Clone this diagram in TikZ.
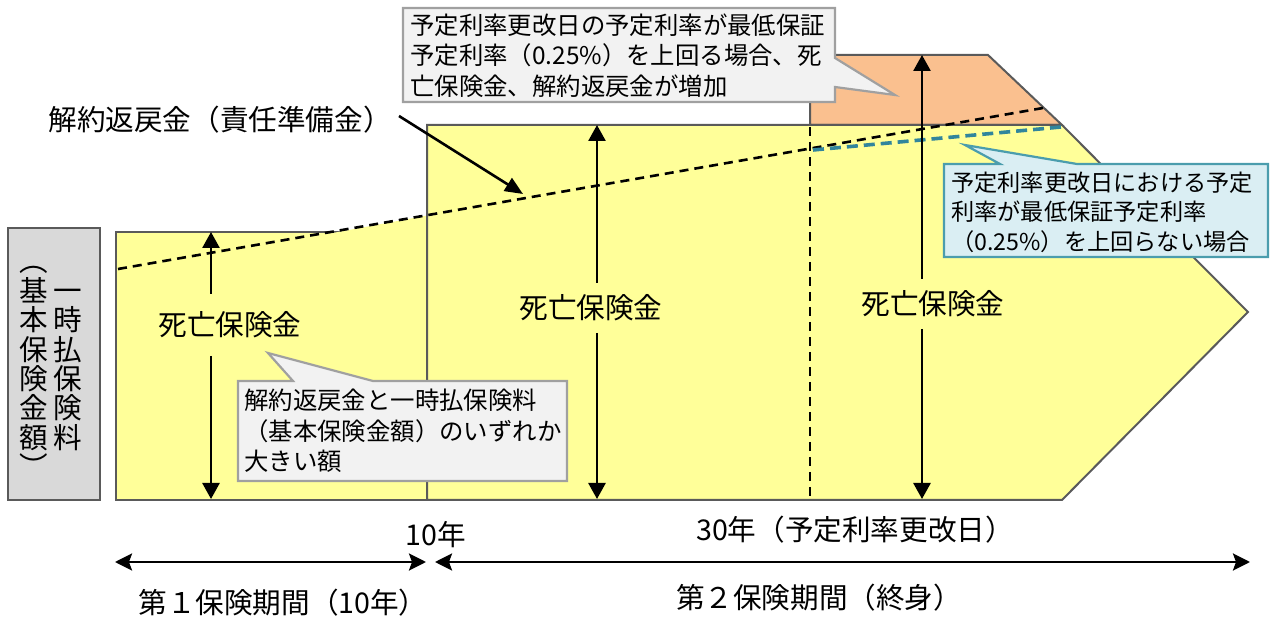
\documentclass[tikz,border=0pt]{standalone}
\usepackage{fontspec}
\setmainfont{Noto Sans CJK JP}
\usetikzlibrary{arrows.meta}
\definecolor{ylw}{HTML}{FFFF99}
\definecolor{org}{HTML}{FAC08F}
\definecolor{edgegray}{HTML}{5A5A5A}
\definecolor{boxgray}{HTML}{D9D9D9}
\definecolor{callfill}{HTML}{F2F2F2}
\definecolor{callline}{HTML}{A0A0A0}
\definecolor{tealfill}{HTML}{DAEEF3}
\definecolor{tealline}{HTML}{4B9DAD}
\definecolor{tealdash}{HTML}{31859C}
\newcommand\jpbig{\fontsize{28.6}{29.4}\selectfont}
\newcommand\jpsmall{\fontsize{24.4}{30.5}\selectfont}
\newcommand\jpteal{\fontsize{23.2}{29.5}\selectfont}
\newcommand\jst{\rule[-0.12em]{0pt}{1em}}
\begin{document}
\begin{tikzpicture}[x=1pt,y=-1pt,
  shapeedge/.style={draw=edgegray, line width=2pt, line join=miter},
  blackdash/.style={draw=black, dash pattern=on 9pt off 6pt, line width=2.6pt},
  tealdashline/.style={draw=tealdash, dash pattern=on 11pt off 6pt, line width=3.6pt},
  arr/.style={draw=black, line width=2.6pt, -{Triangle[width=17pt 0,length=16pt 0]}},
  dbl/.style={draw=black, line width=2.6pt, {Stealth[width=17pt 0,length=17pt 0,inset=3pt]}-{Stealth[width=17pt 0,length=17pt 0,inset=3pt]}},
  lbl/.style={font=\jpbig, inner xsep=0pt, text height=25.2pt, text depth=3.4pt},
  ctext/.style={align=left, inner sep=0pt, anchor=west},
  callgray/.style={fill=callfill, draw=callline, line width=2.2pt, line join=miter},
  callteal/.style={fill=tealfill, draw=tealline, line width=2.2pt, line join=miter}
]
\useasboundingbox (0,0) rectangle (1270,617);

% left gray box with vertical text
\draw[fill=boxgray, draw=edgegray, line width=2pt] (8,228) rectangle (100,500);
\node[font=\jpbig, align=center, inner sep=0pt] (vcolR) at (68,364)
  {\jst 一\\時\\払\\保\\険\\料\jst};
\node[font=\jpbig, align=center, inner sep=0pt] (vcolL) at (34,364)
  {\jst ︵\\基\\本\\保\\険\\金\\額\\︶\jst};

% first period block
\draw[shapeedge, fill=ylw] (116,232) rectangle (427,500);
\fill[ylw] (330,233.5) -- (427,215.5) -- (427,233.5) -- cycle;

% orange increase region
\draw[shapeedge, fill=org] (810,55) -- (988,55) -- (1062,125) -- (810,125) -- cycle;

% second period block
\draw[shapeedge, fill=ylw] (427,125) -- (1062,125) -- (1248,312) -- (1062,500) -- (427,500) -- cycle;

% reserve lines
\draw[blackdash] (118,269) -- (1043,108);
\draw[blackdash] (810,127) -- (810,500);
\draw[tealdashline] (813,150) -- (1061,127);

% death benefit labels and arrows
\node[lbl, inner ysep=16.5pt] (d1) at (230,325) {死亡保険金};
\node[lbl, inner ysep=10.5pt] (d2) at (591,308) {死亡保険金};
\node[lbl, inner ysep=10.5pt] (d3) at (933,304) {死亡保険金};
\coordinate (a1t) at (211,232);
\coordinate (a1b) at (211,499);
\coordinate (a2t) at (597,125);
\coordinate (a2b) at (597,499);
\coordinate (a3t) at (922,55);
\coordinate (a3b) at (922,499);
\draw[arr] (d1.north -| a1t) -- (a1t);
\draw[arr] (d1.south -| a1b) -- (a1b);
\draw[arr] (d2.north -| a2t) -- (a2t);
\draw[arr] (d2.south -| a2b) -- (a2b);
\draw[arr] (d3.north -| a3t) -- (a3t);
\draw[arr] (d3.south -| a3b) -- (a3b);

% reserve label
\node[lbl, inner ysep=0pt] (res) at (220,120) {解約返戻金（責任準備金）};
\coordinate (resA) at (399,116);
\coordinate (resB) at (523,194);
\draw[arr, -{Triangle[width=15pt 0,length=18pt 0]}] (resA) -- (resB);

% callout: left gray
\draw[callgray] (238,381) -- (293,381) -- (268,353) -- (373,381) -- (567,381)
  -- (567,481) -- (238,481) -- cycle;
\node[ctext, font=\jpsmall] (c1) at (244,431)
  {\jst 解約返戻金と一時払保険料\\（基本保険金額）のいずれか\\大きい額\jst};

% callout: top gray
\draw[callgray] (403,8) -- (835,8) -- (835,58) -- (895,95) -- (835,87)
  -- (835,102) -- (403,102) -- cycle;
\node[ctext, font=\jpsmall] (c2) at (410,55.5)
  {\jst 予定利率更改日の予定利率が最低保証\\予定利率（0.25\%）を上回る場合、死\\亡保険金、解約返戻金が増加\jst};

% callout: teal
\draw[callteal] (944,164) -- (1000,164) -- (965,145) -- (1077,164) -- (1268,164)
  -- (1268,257) -- (944,257) -- cycle;
\node[ctext, font=\jpteal] (c3) at (951,212)
  {\jst 予定利率更改日における予定\\利率が最低保証予定利率\\（0.25\%）を上回らない場合\jst};

% time axis
\node[lbl, inner ysep=0pt] (t10) at (436,535) {10年};
\node[lbl, inner ysep=0pt] (t30) at (855,530) {30年（予定利率更改日）};
\coordinate (p1l) at (115,562);
\coordinate (p1r) at (426,562);
\coordinate (p2l) at (435,562);
\coordinate (p2r) at (1250,562);
\draw[dbl] (p1l) -- (p1r);
\draw[dbl] (p2l) -- (p2r);
\node[lbl, inner ysep=0pt] (per1) at (283,603) {第１保険期間（10年）};
\node[lbl, inner ysep=0pt] (per2) at (819,598) {第２保険期間（終身）};
\end{tikzpicture}
\end{document}
